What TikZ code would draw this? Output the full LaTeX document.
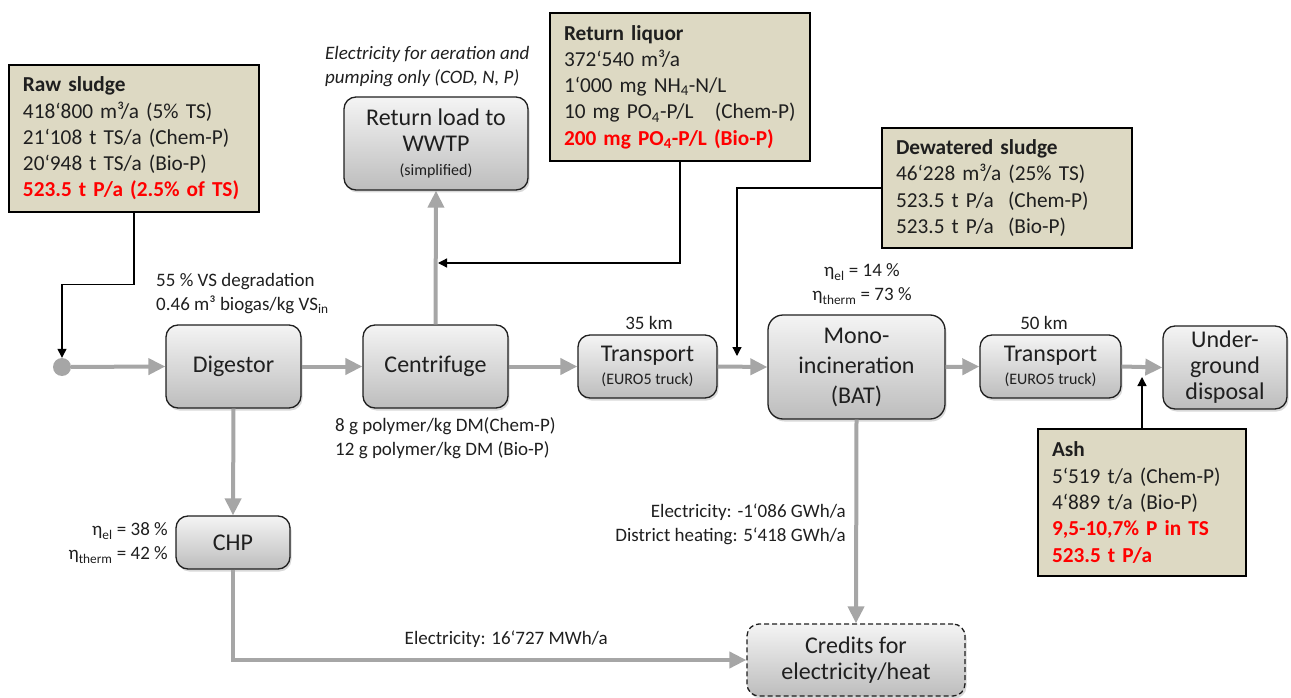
\documentclass[tikz,border=0pt]{standalone}
\usepackage{fontspec}
\setmainfont{Carlito}
\usetikzlibrary{arrows.meta,shadows}
\definecolor{flowgray}{HTML}{A6A6A6}
\definecolor{tanbox}{HTML}{DDD9C3}
\definecolor{btop}{HTML}{F4F4F4}
\definecolor{bbot}{HTML}{BDBDBD}
\definecolor{txt}{HTML}{1F1F1F}
\definecolor{pred}{HTML}{FF0000}
\tikzset{
  proc/.style={rectangle, rounded corners=12pt, draw=txt, line width=1.3pt,
    top color=btop, bottom color=bbot,
    drop shadow={shadow xshift=1.5pt, shadow yshift=-2.5pt, opacity=0.3},
    align=center, font=\fontsize{24}{26}\selectfont, text=txt, inner sep=0pt},
  info/.style={rectangle, draw=black, line width=1.5pt, fill=tanbox, align=left,
    font=\fontsize{21.3}{26.3}\selectfont, text=txt, inner xsep=14pt, inner ysep=0pt},
  note/.style={font=\fontsize{19}{24}\selectfont, text=txt, inner sep=0pt},
  flow/.style={draw=flowgray, line width=4pt, -{Triangle[length=17pt,width=16pt]}},
  blk/.style={draw=black, line width=1.3pt, -{Triangle[length=9pt,width=9pt]}}
}
\newcommand{\smalltxt}{\fontsize{16}{18}\selectfont}
\begin{document}
\begin{tikzpicture}[x=1pt,y=-1pt]
\useasboundingbox (0,0) rectangle (1291,698);

% process boxes
\node[proc, minimum width=135pt, minimum height=83pt] (dig) at (233.5,366.5) {Digestor};
\node[proc, minimum width=145pt, minimum height=83pt] (cen) at (435.5,366.5) {Centrifuge};
\node[proc, minimum width=184pt, minimum height=93pt] (ret) at (436,143.5) {Return load to\\WWTP\\[-2pt]{\smalltxt (simplified)}};
\node[proc, minimum width=139pt, minimum height=63pt] (tr1) at (647.5,366.5) {Transport\\[-3pt]{\smalltxt (EURO5 truck)}};
\node[proc, rounded corners=15pt, minimum width=177pt, minimum height=104pt, font=\fontsize{24}{30}\selectfont] (mono) at (856.5,367) {Mono-\\incineration\\(BAT)};
\node[proc, minimum width=141pt, minimum height=63pt] (tr2) at (1050.5,366.5) {Transport\\[-3pt]{\smalltxt (EURO5 truck)}};
\node[proc, minimum width=124pt, minimum height=83pt] (und) at (1225,367.5) {Under-\\ground\\disposal};
\node[proc, minimum width=114pt, minimum height=53pt] (chp) at (233,542.5) {CHP};
\node[proc, dash pattern=on 5pt off 3pt, minimum width=218pt, minimum height=72pt] (cred) at (856,660) {Credits for\\electricity/heat};

% start point
\node[circle, fill=flowgray, minimum size=18pt, inner sep=0pt] (src) at (62,367) {};

% info boxes
\node[info, minimum width=250pt, minimum height=147pt, text width=222pt] (raw) at (134,138.5) {\textbf{Raw sludge}\\418‘800 m³/a (5\% TS)\\21‘108 t TS/a (Chem-P)\\20‘948 t TS/a (Bio-P)\\\textcolor{pred}{\textbf{523.5 t P/a (2.5\% of TS)}}};
\node[info, minimum width=260pt, minimum height=148pt, text width=232pt] (liq) at (680,87) {\textbf{Return liquor}\\372‘540 m³/a\\1‘000 mg NH\textsubscript{4}-N/L\\10 mg PO\textsubscript{4}-P/L\ \ \ (Chem-P)\\\textcolor{pred}{\textbf{200 mg PO\textsubscript{4}-P/L (Bio-P)}}};
\node[info, minimum width=250pt, minimum height=120pt, text width=222pt] (dew) at (1007,188) {\textbf{Dewatered sludge}\\46‘228 m³/a (25\% TS)\\523.5 t P/a\ \ (Chem-P)\\523.5 t P/a\ \ (Bio-P)};
\node[info, minimum width=208pt, minimum height=147pt, text width=180pt] (ash) at (1142,502.5) {\textbf{Ash}\\5‘519 t/a (Chem-P)\\4‘889 t/a (Bio-P)\\\textcolor{pred}{\textbf{9,5-10,7\% P in TS}}\\\textcolor{pred}{\textbf{523.5 t P/a}}};

% annotations
\node[note, anchor=west, align=left, font=\fontsize{19}{24}\selectfont\itshape] (elnote) at (325,67) {Electricity for aeration and\\pumping only (COD, N, P)};
\node[note, anchor=west, align=left] (degr) at (156,293.5) {55 \% VS degradation\\0.46 m³ biogas/kg VS\textsubscript{in}};
\node[note, anchor=west, align=left] (poly) at (335,438) {8 g polymer/kg DM(Chem-P)\\12 g polymer/kg DM (Bio-P)};
\node[note, align=center] (etamono) at (862,284) {η\textsubscript{el} = 14 \%\\η\textsubscript{therm} = 73 \%};
\node[note] (km35) at (649,323) {35 km};
\node[note] (km50) at (1044,323) {50 km};
\node[note, anchor=east, align=right] (etachp) at (168,543) {η\textsubscript{el} = 38 \%\\η\textsubscript{therm} = 42 \%};
\node[note, anchor=east, align=right] (elmono) at (846,524) {Electricity: -1‘086 GWh/a\\District heating: 5‘418 GWh/a};
\node[note, anchor=east] (elchp) at (608,639) {Electricity: 16‘727 MWh/a};

% junction coordinates
\coordinate (rj) at (438,263);
\coordinate (dj) at (737,356);
\coordinate (aj) at (1142,377);

% gray flows
\draw[flow] (src) -- (dig.west);
\draw[flow] (dig.east) -- (cen.west);
\draw[flow] (cen.north) -- (ret.south);
\draw[flow] (cen.east) -- (tr1.west);
\draw[flow] (tr1.east) -- (mono.west);
\draw[flow] (mono.east) -- (tr2.west);
\draw[flow] (tr2.east) -- (und.west);
\draw[flow] (dig.south) -- (chp.north);
\draw[flow] (chp.south) |- (cred.west);
\draw[flow] (mono.south) -- (cred.north);

% black feeds
\draw[blk] (raw.south) -- ++(0,72) -| (src.north);
\draw[blk] (liq.south) |- (rj);
\draw[blk] (dew.west) -| (dj);
\draw[blk] (ash.north) -- (aj);
\end{tikzpicture}
\end{document}
